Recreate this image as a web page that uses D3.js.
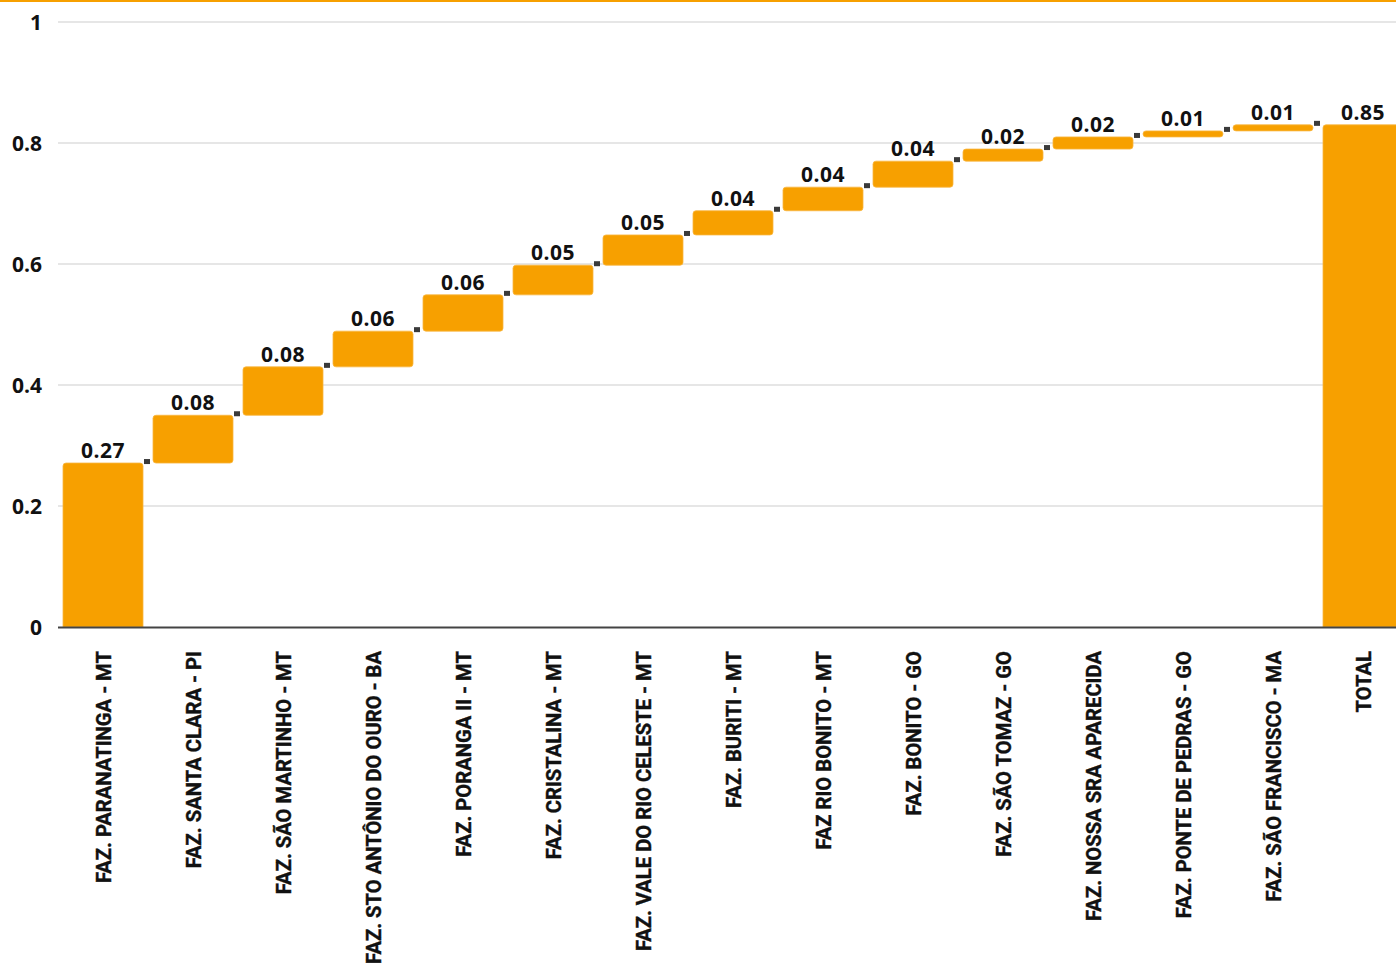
<!DOCTYPE html>
<html><head><meta charset="utf-8">
<script src="https://cdn.jsdelivr.net/npm/d3@7"></script>
<style>
html,body{margin:0;padding:0;background:#fff;overflow:hidden;}
svg{display:block;font-family:"Open Sans",Roboto,sans-serif;}
</style></head>
<body><svg id="chart" width="1396" height="976"></svg>
<script>
const categories = ["FAZ. PARANATINGA - MT","FAZ. SANTA CLARA - PI","FAZ. SÃO MARTINHO - MT","FAZ. STO ANTÔNIO DO OURO - BA","FAZ. PORANGA II - MT","FAZ. CRISTALINA - MT","FAZ. VALE DO RIO CELESTE - MT","FAZ. BURITI - MT","FAZ RIO BONITO - MT","FAZ. BONITO - GO","FAZ. SÃO TOMAZ - GO","FAZ. NOSSA SRA APARECIDA","FAZ. PONTE DE PEDRAS - GO","FAZ. SÃO FRANCISCO - MA"];
const values = [0.271,0.079,0.080,0.059,0.060,0.049,0.050,0.040,0.039,0.043,0.020,0.020,0.010,0.010];
const totalName = "TOTAL";
const totalLabel = 0.85;
const yTicks = [0,0.2,0.4,0.6,0.8,1];

const W=1396,H=976;
const svg=d3.select("#chart");
const orange="#F7A000";
const m={left:58,top:22,bottom:627};
const allCats=categories.concat([totalName]);
const x=d3.scaleBand().domain(allCats).range([m.left,m.left+90*allCats.length]).paddingInner(10/90).paddingOuter(5/90);
const y=d3.scaleLinear().domain([0,1]).range([m.bottom,m.top]);

// top rule
svg.append("rect").attr("x",0).attr("y",0).attr("width",W).attr("height",2).attr("fill",orange);

// grid
const grid=svg.append("g");
grid.selectAll("line").data(yTicks.filter(d=>d>0)).join("line")
 .attr("x1",m.left).attr("x2",W).attr("y1",d=>y(d)).attr("y2",d=>y(d))
 .attr("stroke","#e6e6e6").attr("stroke-width",2);

// y axis labels
const yAxis=d3.axisLeft(y).tickValues(yTicks).tickSize(0).tickPadding(0).tickFormat(d=>d3.format("~g")(d));
const ga=svg.append("g").attr("transform",`translate(42,0)`).call(yAxis);
ga.select(".domain").remove();
ga.selectAll("text").attr("font-size",21).attr("font-weight",700).attr("fill","#111").attr("dy","0.35em").style("font-family","'Open Sans',sans-serif");

// waterfall data
let cum=0;
const rows=values.map((v,i)=>{const s=cum;cum+=v;return {name:categories[i],start:s,end:cum,v,label:d3.format(".2f")(v)};});
rows.push({name:totalName,start:0,end:cum,v:cum,label:d3.format(".2f")(totalLabel),total:true});

const bars=svg.append("g");
bars.selectAll("path").data(rows).join("path")
 .attr("fill",orange).attr("stroke","#f9b640").attr("stroke-width",0.8)
 .attr("d",d=>{
   const x0=x(d.name),w=x.bandwidth(),y0=y(d.end),y1=y(d.start);
   const r=3;
   const bottomR=(d.start===0)?0:r;
   const p=d3.path();
   p.moveTo(x0+r,y0);p.lineTo(x0+w-r,y0);p.quadraticCurveTo(x0+w,y0,x0+w,y0+r);
   p.lineTo(x0+w,y1-bottomR);p.quadraticCurveTo(x0+w,y1,x0+w-bottomR,y1);
   p.lineTo(x0+bottomR,y1);p.quadraticCurveTo(x0,y1,x0,y1-bottomR);
   p.lineTo(x0,y0+r);p.quadraticCurveTo(x0,y0,x0+r,y0);p.closePath();
   return p.toString();
 });

// connectors
svg.append("g").selectAll("rect").data(rows.slice(0,-1)).join("rect")
 .attr("x",d=>x(d.name)+x.bandwidth()+1).attr("y",d=>y(d.end)-4)
 .attr("width",6).attr("height",5).attr("fill","#3a3a3a");

// value labels
svg.append("g").selectAll("text").data(rows).join("text")
 .attr("x",d=>x(d.name)+x.bandwidth()/2).attr("y",d=>y(d.end)-5)
 .attr("text-anchor","middle").attr("font-size",21).attr("font-weight",700).attr("fill","#111")
 .attr("letter-spacing",0.5)
 .text(d=>d.label);

// x axis
svg.append("line").attr("x1",m.left).attr("x2",W).attr("y1",m.bottom+0.5).attr("y2",m.bottom+0.5).attr("stroke","#444").attr("stroke-width",2);
const xl=svg.append("g");
xl.selectAll("text").data(allCats).join("text")
 .attr("transform",d=>`translate(${x(d)+x.bandwidth()/2+8},651) rotate(-90)`)
 .attr("text-anchor","end").attr("font-size",20.2).attr("font-weight",700).attr("fill","#111")
 .style("font-family","Roboto,sans-serif")
 .attr("stroke","#111").attr("stroke-width",0.4)
 .text(d=>d);
</script></body></html>
